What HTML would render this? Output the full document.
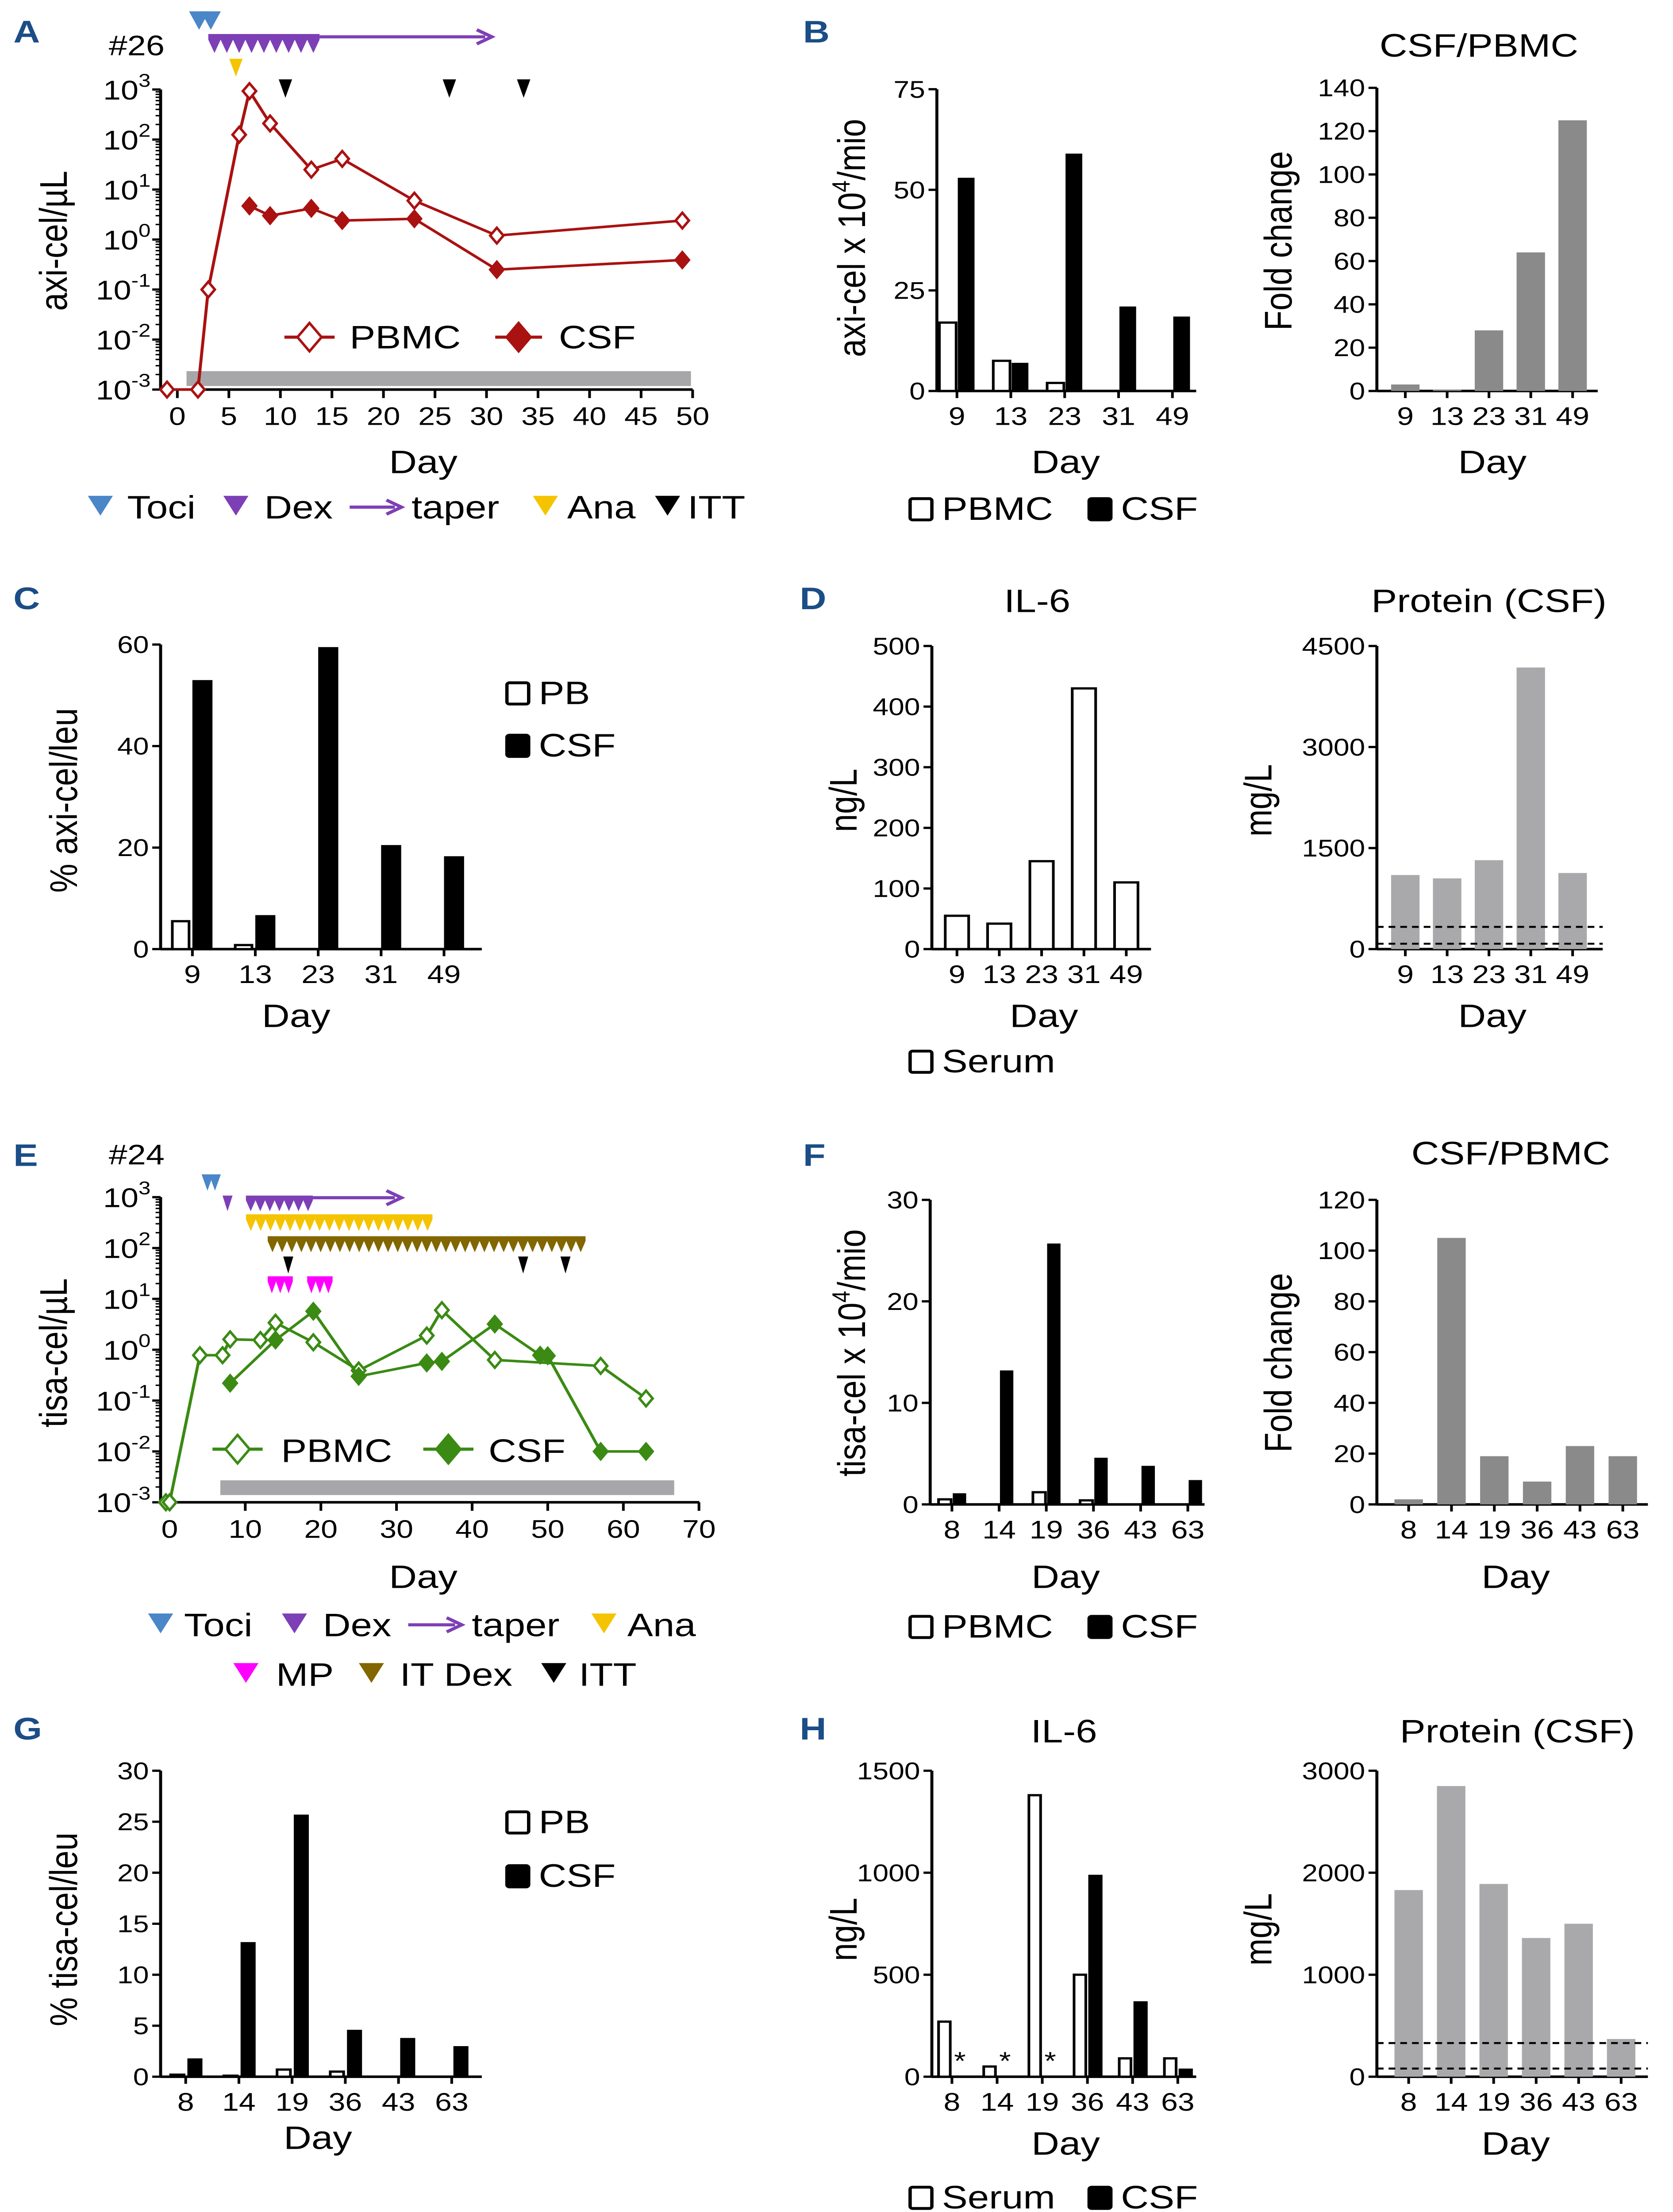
<!DOCTYPE html>
<html><head><meta charset="utf-8"><style>
html,body{margin:0;padding:0;background:#fff;width:100vw;height:100vh;overflow:hidden}
svg{display:block;width:100vw;height:100vh}
text{font-family:"Liberation Sans",Arial,sans-serif}
</style></head><body>
<svg id="fig" xmlns="http://www.w3.org/2000/svg" viewBox="0 0 1000 1561.5" preserveAspectRatio="none">
<g id="root"></g>
</svg>
<script>
// ---------- DATA ----------
const A_pbmcDays=[-1,2,3,6,7,9,13,16,23,31,49];
const A_pbmcVals=[0.001,0.001,0.1,125,930,210,25,41,6,1.2,2.4];
const A_csfDays=[7,9,13,16,23,31,49];
const A_csfVals=[4.7,3,4.2,2.4,2.6,0.25,0.39];
const A_xTicks=[0,5,10,15,20,25,30,35,40,45,50];
const E_pbmcDays=[-0.5,0,4,7,8,12,14,19,25,34,36,43,57,63];
const E_pbmcVals=[0.001,0.001,0.78,0.78,1.6,1.55,3.4,1.4,0.39,1.9,6,0.63,0.48,0.11];
const E_csfDays=[8,14,19,25,34,36,43,49,50,57,63];
const E_csfVals=[0.22,1.55,5.7,0.3,0.55,0.59,3.2,0.78,0.76,0.01,0.01];
const E_xTicks=[0,10,20,30,40,50,60,70];
const logTicks=[-3,-2,-1,0,1,2,3];

const B_days=["9","13","23","31","49"];
const B_pbmc=[17,7.5,2,0,0];
const B_csf=[53,7,59,21,18.5];
const B_ticks=[0,25,50,75];
const B_fold=[3,0.5,28,64,125];
const B_foldTicks=[0,20,40,60,80,100,120,140];

const C_days=["9","13","23","31","49"];
const C_pb=[5.5,0.8,0,0,0];
const C_csf=[53,6.7,59.5,20.5,18.3];
const C_ticks=[0,20,40,60];

const D_days=["9","13","23","31","49"];
const D_il6=[55,42,145,430,110];
const D_il6Ticks=[0,100,200,300,400,500];
const D_protein=[1100,1050,1320,4180,1130];
const D_protTicks=[0,1500,3000,4500];
const D_refLines=[330,80];

const F_days=["8","14","19","36","43","63"];
const F_pbmc=[0.5,0,1.2,0.4,0,0];
const F_csf=[1.1,13.2,25.7,4.6,3.8,2.4];
const F_ticks=[0,10,20,30];
const F_fold=[2,105,19,9,23,19];
const F_foldTicks=[0,20,40,60,80,100,120];

const G_days=["8","14","19","36","43","63"];
const G_pb=[0.2,0.1,0.7,0.5,0,0];
const G_csf=[1.8,13.2,25.7,4.6,3.8,3.0];
const G_ticks=[0,5,10,15,20,25,30];

const H_days=["8","14","19","36","43","63"];
const H_serum=[270,50,1380,500,90,90];
const H_csf=[null,null,null,990,370,40];
const H_ticks=[0,500,1000,1500];
const H_protein=[1830,2850,1890,1360,1500,370];
const H_protTicks=[0,1000,2000,3000];
const H_refLines=[330,80];

// ---------- HELPERS ----------
const NS="http://www.w3.org/2000/svg";
const svg=document.getElementById('root');
function mk(tag,attrs,name,parent){
  const el=document.createElementNS(NS,tag);
  for(const k in attrs) el.setAttribute(k,attrs[k]);
  
  
  (parent||svg).appendChild(el);
  return el;
}
function txt(x,y,s,size,name,opt){
  opt=opt||{};
  const a={x:x,y:y,'font-size':size,'text-anchor':opt.anchor||'middle',fill:opt.fill||'#000'};
  if(opt.weight) a['font-weight']=opt.weight;
  if(opt.rot) a.transform='rotate('+opt.rot+' '+x+' '+y+')';
  const t=mk('text',a,name);
  t.textContent=s;
  return t;
}
function ln(x1,y1,x2,y2,name,w,col,dash){
  const a={x1:x1,y1:y1,x2:x2,y2:y2,stroke:col||'#000','stroke-width':w||1.6};
  if(dash) a['stroke-dasharray']=dash;
  return mk('line',a,name);
}
function tri(cx,top,w,h,col,name){
  return mk('polygon',{points:(cx-w/2)+','+top+' '+(cx+w/2)+','+top+' '+cx+','+(top+h),fill:col},name);
}
function saw(x0,x1,top,bot,n,col,name){
  const w=(x1-x0)/n; const band=top+(bot-top)*0.3;
  let p=x0+','+top+' '+x1+','+top+' '+x1+','+band;
  for(let i=n-1;i>=0;i--){ p+=' '+(x0+i*w+w/2)+','+bot+' '+(x0+i*w)+','+band; }
  return mk('polygon',{points:p,fill:col},name);
}
function arrow(x0,x1,y,col,name){
  mk('line',{x1:x0,y1:y,x2:x1-4,y2:y,stroke:col,'stroke-width':2.2},name);
  mk('polyline',{points:(x1-9)+','+(y-5)+' '+x1+','+y+' '+(x1-9)+','+(y+5),fill:'none',stroke:col,'stroke-width':2.2},name+'-head');
}
function diamond(cx,cy,r,col,filled,name){
  return mk('polygon',{points:cx+','+(cy-r)+' '+(cx+r*0.72)+','+cy+' '+cx+','+(cy+r)+' '+(cx-r*0.72)+','+cy,
    fill:filled?col:'#fff',stroke:col,'stroke-width':1.6},name);
}
function panelLetter(x,y,s){ txt(x,y,s,22,'panel-label-'+s.toLowerCase(),{anchor:'start',weight:'bold',fill:'#1b4d86'}); }

// ---------- LOG LINE CHART ----------
function logChart(p){
  const ys=v=>p.y0-(Math.log10(v)+3)*p.dec;
  const xs=d=>p.xd0+d*p.xpd;
  mk('rect',{x:p.gx0,y:p.gy0,width:p.gx1-p.gx0,height:p.gy1-p.gy0,fill:'#a7a7aa'},p.id+'-detection-limit-bar');
  ln(p.ax,p.y0-6*p.dec,p.ax,p.y0,p.id+'-y-axis-line',1.8);
  for(const e of logTicks){
    const y=ys(Math.pow(10,e));
    ln(p.ax-5,y,p.ax,y,p.id+'-y-major-tick',1.6);
    const t=txt(p.ax-6,y+7,'10',19,p.id+'-y-tick-label',{anchor:'end'});
    const sp=mk('tspan',{dy:-9,'font-size':13},p.id+'-y-tick-exp',t);
    sp.textContent=e;
    if(e<3) for(let k=2;k<10;k++){ const yy=ys(k*Math.pow(10,e)); ln(p.ax-3,yy,p.ax,yy,p.id+'-y-minor-tick',1); }
  }
  ln(p.ax,p.y0,p.xEnd,p.y0,p.id+'-x-axis-line',1.8);
  for(const d of p.xTicks){ ln(xs(d),p.y0,xs(d),p.y0+6,p.id+'-x-tick',1.6); txt(xs(d),p.y0+25,String(d),18,p.id+'-x-tick-label'); }
  function series(days,vals,filled,name){
    let pts=days.map((d,i)=>xs(d)+','+ys(vals[i])).join(' ');
    mk('polyline',{points:pts,fill:'none',stroke:p.col,'stroke-width':1.8},name+'-line');
    days.forEach((d,i)=>diamond(xs(d),ys(vals[i]),5.5,p.col,filled,name+'-point'));
  }
  series(p.pDays,p.pVals,false,p.id+'-pbmc');
  series(p.cDays,p.cVals,true,p.id+'-csf');
}
logChart({id:'a',ax:96,y0:275,dec:35.3,xd0:106,xpd:6.16,xEnd:414,xTicks:A_xTicks,col:'#aa1111',
  gx0:111.5,gx1:413,gy0:262,gy1:272.5,pDays:A_pbmcDays,pVals:A_pbmcVals,cDays:A_csfDays,cVals:A_csfVals});
logChart({id:'e',ax:96,y0:1060.5,dec:35.9,xd0:101.4,xpd:4.52,xEnd:418,xTicks:E_xTicks,col:'#3a8a14',
  gx0:131.7,gx1:403,gy0:1045,gy1:1055.4,pDays:E_pbmcDays,pVals:E_pbmcVals,cDays:E_csfDays,cVals:E_csfVals});

// ---------- BAR CHART ----------
function barChart(p){
  const ys=v=>p.y0-v/p.max*(p.y0-p.yTop);
  ln(p.ax,p.yTop,p.ax,p.y0,p.id+'-y-axis-line',1.8);
  p.ticks.forEach(t=>{ ln(p.ax-5,ys(t),p.ax,ys(t),p.id+'-y-tick',1.6); txt(p.ax-7,ys(t)+6,String(t),17,p.id+'-y-tick-label',{anchor:'end'}); });
  ln(p.ax,p.y0,p.xEnd,p.y0,p.id+'-x-axis-line',1.8);
  p.cats.forEach((c,i)=>{ const cx=p.c0+i*p.step;
    ln(cx,p.y0,cx,p.y0+5,p.id+'-x-tick',1.6);
    txt(cx,p.y0+24,c,18,p.id+'-x-tick-label'); });
  p.series.forEach(s=>{
    s.vals.forEach((v,i)=>{ const cx=p.c0+i*p.step;
      if(v===null){ txt(cx+s.off+s.w/2,p.y0-5,'*',18,p.id+'-missing-marker'); return; }
      if(v<=0) return;
      const y=ys(v);
      mk('rect',{x:cx+s.off,y:y,width:s.w,height:p.y0-y,fill:s.fill,stroke:s.stroke||'none','stroke-width':s.stroke?1.6:0},p.id+'-bar-'+s.name);
    });
  });
  (p.ref||[]).forEach(r=>ln(p.ax,ys(r),p.xEnd,ys(r),p.id+'-reference-line',1.4,'#000','4,3'));
  if(p.title) txt(p.tx,p.ty,p.title,23,p.id+'-title');
  if(p.ylab) txt(p.ylx,p.yly,p.ylab,23,p.id+'-y-axis-title',{rot:-90});
  txt(p.dx,p.dy,'Day',23,p.id+'-x-axis-title');
}
const W='#fff',K='#000',DG='#8a8a8a',LG='#a9a9ac';
barChart({id:'b-left',ax:560,y0:276,yTop:63,max:75,ticks:B_ticks,xEnd:715,c0:572,step:32.2,cats:B_days,
  series:[{name:'pbmc',vals:B_pbmc,off:-10.5,w:10,fill:W,stroke:K},{name:'csf',vals:B_csf,off:0.5,w:10,fill:K}],
  ylab:'',ylx:0,yly:0,dx:637,dy:334});
barChart({id:'b-right',ax:823,y0:276,yTop:62,max:140,ticks:B_foldTicks,xEnd:955,c0:840,step:25,cats:B_days,
  series:[{name:'fold',vals:B_fold,off:-8.5,w:17,fill:DG}],title:'CSF/PBMC',tx:884,ty:40,
  ylab:'Fold change',ylx:772,yly:170,dx:892,dy:334});
barChart({id:'c',ax:96,y0:670,yTop:455,max:60,ticks:C_ticks,xEnd:288,c0:115,step:37.6,cats:C_days,
  series:[{name:'pb',vals:C_pb,off:-12,w:10,fill:W,stroke:K},{name:'csf',vals:C_csf,off:0,w:12,fill:K}],
  ylab:'% axi-cel/leu',ylx:46,yly:565,dx:177,dy:725});
barChart({id:'d-il6',ax:557,y0:670,yTop:456,max:500,ticks:D_il6Ticks,xEnd:688,c0:572,step:25.3,cats:D_days,
  series:[{name:'serum',vals:D_il6,off:-7,w:14,fill:W,stroke:K}],title:'IL-6',tx:620,ty:432,
  ylab:'ng/L',ylx:512,yly:565,dx:624,dy:725});
barChart({id:'d-protein',ax:823,y0:670,yTop:456,max:4500,ticks:D_protTicks,xEnd:958,c0:840,step:25,cats:D_days,
  series:[{name:'protein',vals:D_protein,off:-8.5,w:17,fill:LG}],ref:D_refLines,title:'Protein (CSF)',tx:890,ty:432,
  ylab:'mg/L',ylx:760,yly:565,dx:892,dy:725});
barChart({id:'f-left',ax:556,y0:1062,yTop:847,max:30,ticks:F_ticks,xEnd:720,c0:569,step:28.2,cats:F_days,
  series:[{name:'pbmc',vals:F_pbmc,off:-8,w:7.5,fill:W,stroke:K},{name:'csf',vals:F_csf,off:0.5,w:8,fill:K}],
  ylab:'',ylx:0,yly:0,dx:637,dy:1121});
barChart({id:'f-right',ax:823,y0:1062,yTop:847,max:120,ticks:F_foldTicks,xEnd:985,c0:842,step:25.6,cats:F_days,
  series:[{name:'fold',vals:F_fold,off:-8.5,w:17,fill:DG}],title:'CSF/PBMC',tx:903,ty:822,
  ylab:'Fold change',ylx:772,yly:962,dx:906,dy:1121});
barChart({id:'g',ax:96,y0:1466,yTop:1250,max:30,ticks:G_ticks,xEnd:288,c0:111,step:31.8,cats:G_days,
  series:[{name:'pb',vals:G_pb,off:-9,w:8,fill:W,stroke:K},{name:'csf',vals:G_csf,off:1,w:9,fill:K}],
  ylab:'% tisa-cel/leu',ylx:46,yly:1362,dx:190,dy:1517});
barChart({id:'h-il6',ax:557,y0:1466,yTop:1250,max:1500,ticks:H_ticks,xEnd:715,c0:569,step:27,cats:H_days,
  series:[{name:'serum',vals:H_serum,off:-8,w:7,fill:W,stroke:K},{name:'csf',vals:H_csf,off:0.5,w:8.5,fill:K}],
  title:'IL-6',tx:636,ty:1230,ylab:'ng/L',ylx:512,yly:1362,dx:637,dy:1521});
barChart({id:'h-protein',ax:823,y0:1466,yTop:1250,max:3000,ticks:H_protTicks,xEnd:985,c0:842,step:25.4,cats:H_days,
  series:[{name:'protein',vals:H_protein,off:-8.5,w:17,fill:LG}],ref:H_refLines,title:'Protein (CSF)',tx:907,ty:1230,
  ylab:'mg/L',ylx:760,yly:1362,dx:906,dy:1521});

function supTitle(x,y,pre,name){
  const t=txt(x,y,pre,23,name,{rot:-90});
  const s=mk('tspan',{dy:-9,'font-size':15},name+'-exp',t); s.textContent='4';
  const r=mk('tspan',{dy:9},name+'-rest',t); r.textContent='/mio';
}
supTitle(517,168,'axi-cel x 10','b-left-y-axis-title');
supTitle(517,955,'tisa-cel x 10','f-left-y-axis-title');

// ---------- PANEL LETTERS, LABELS ----------
['A',8,30,'B',480,30,'C',8,430,'D',478,430,'E',8,823,'F',480,823,'G',8,1228,'H',478,1228].forEach((v,i,a)=>{ if(i%3===0) panelLetter(a[i+1],a[i+2],v); });
txt(65,39,'#26',20,'a-patient-id',{anchor:'start'});
txt(65,822,'#24',20,'e-patient-id',{anchor:'start'});
txt(40,170,'axi-cel/µL',23,'a-y-axis-title',{rot:-90});
txt(40,955,'tisa-cel/µL',23,'e-y-axis-title',{rot:-90});
txt(253,334,'Day',23,'a-x-axis-title');
txt(253,1121,'Day',23,'e-x-axis-title');

// ---------- TREATMENT MARKERS A ----------
const BLUE='#4a86c8',PUR='#7d3fb5',YEL='#f5c400',MAG='#ff00ff',BRN='#826600';
tri(119,8,12,13,BLUE,'a-toci-marker'); tri(126,8,12,13,BLUE,'a-toci-marker');
saw(124.5,191,24,37.4,9,PUR,'a-dex-markers'); arrow(191,294,26,PUR,'a-taper-arrow');
tri(141,41.5,8,12.5,YEL,'a-ana-marker');
[170.6,268.6,313].forEach(x=>tri(x,56,8,13,'#000','a-itt-marker'));
ln(170,238,200,238,'a-legend-pbmc-line',2.2,'#aa1111'); diamond(185,238,10,'#aa1111',false,'a-legend-pbmc-marker');
txt(209,246,'PBMC',23,'a-legend-pbmc-label',{anchor:'start'});
ln(296,238,324,238,'a-legend-csf-line',2.2,'#aa1111'); diamond(310,238,10,'#aa1111',true,'a-legend-csf-marker');
txt(334,246,'CSF',23,'a-legend-csf-label',{anchor:'start'});
tri(60,350,15,14,BLUE,'a-key-toci'); txt(76,366,'Toci',23,'a-key-toci-label',{anchor:'start'});
tri(141,350,15,14,PUR,'a-key-dex'); txt(158,366,'Dex',23,'a-key-dex-label',{anchor:'start'});
arrow(209,240,358,PUR,'a-key-taper-arrow'); txt(246,366,'taper',23,'a-key-taper-label',{anchor:'start'});
tri(326,350,15,14,YEL,'a-key-ana'); txt(339,366,'Ana',23,'a-key-ana-label',{anchor:'start'});
tri(399,350,15,14,'#000','a-key-itt'); txt(411,366,'ITT',23,'a-key-itt-label',{anchor:'start'});

// ---------- TREATMENT MARKERS E ----------
tri(124,829,7,11.5,BLUE,'e-toci-marker'); tri(128.5,829,7,11.5,BLUE,'e-toci-marker');
tri(136,844,6,11,PUR,'e-dex-marker');
saw(147,187,844,855,7,PUR,'e-dex-markers'); arrow(187,240,845.5,PUR,'e-taper-arrow');
saw(147,258.5,857.2,869,19,YEL,'e-ana-markers');
saw(160,350,872.7,884,33,BRN,'e-itdex-markers');
[172.3,312.7,338].forEach(x=>tri(x,887,6,12,'#000','e-itt-marker'));
saw(160,175,901,913,3,MAG,'e-mp-markers'); saw(183.6,198.8,901,913,3,MAG,'e-mp-markers');
ln(127,1023,157,1023,'e-legend-pbmc-line',2.2,'#3a8a14'); diamond(142,1023,10,'#3a8a14',false,'e-legend-pbmc-marker');
txt(168,1032,'PBMC',23,'e-legend-pbmc-label',{anchor:'start'});
ln(253,1023,283,1023,'e-legend-csf-line',2.2,'#3a8a14'); diamond(268,1023,10,'#3a8a14',true,'e-legend-csf-marker');
txt(292,1032,'CSF',23,'e-legend-csf-label',{anchor:'start'});
tri(96,1139,15,14,BLUE,'e-key-toci'); txt(110,1155,'Toci',23,'e-key-toci-label',{anchor:'start'});
tri(176,1139,15,14,PUR,'e-key-dex'); txt(193,1155,'Dex',23,'e-key-dex-label',{anchor:'start'});
arrow(244,276,1147,PUR,'e-key-taper-arrow'); txt(282,1155,'taper',23,'e-key-taper-label',{anchor:'start'});
tri(361,1139,15,14,YEL,'e-key-ana'); txt(375,1155,'Ana',23,'e-key-ana-label',{anchor:'start'});
tri(147,1174,15,14,MAG,'e-key-mp'); txt(165,1190,'MP',23,'e-key-mp-label',{anchor:'start'});
tri(222,1174,15,14,BRN,'e-key-itdex'); txt(239,1190,'IT Dex',23,'e-key-itdex-label',{anchor:'start'});
tri(331,1174,15,14,'#000','e-key-itt'); txt(346,1190,'ITT',23,'e-key-itt-label',{anchor:'start'});

// ---------- BAR LEGENDS ----------
function boxKey(x,y,fill,label,name){
  mk('rect',{x:x,y:y-14,width:13,height:15,fill:fill,stroke:'#000','stroke-width':2,rx:1.5},name+'-swatch');
  txt(x+19,y+1,label,23,name+'-label',{anchor:'start'});
}
boxKey(544,366,W,'PBMC','b-legend-pbmc'); boxKey(651,366,K,'CSF','b-legend-csf');
boxKey(303,496,W,'PB','c-legend-pb'); boxKey(303,533,K,'CSF','c-legend-csf');
boxKey(544,756,W,'Serum','d-legend-serum');
boxKey(544,1155,W,'PBMC','f-legend-pbmc'); boxKey(651,1155,K,'CSF','f-legend-csf');
boxKey(303,1293,W,'PB','g-legend-pb'); boxKey(303,1331,K,'CSF','g-legend-csf');
boxKey(544,1558,W,'Serum','h-legend-serum'); boxKey(651,1558,K,'CSF','h-legend-csf');
</script>
</body></html>
